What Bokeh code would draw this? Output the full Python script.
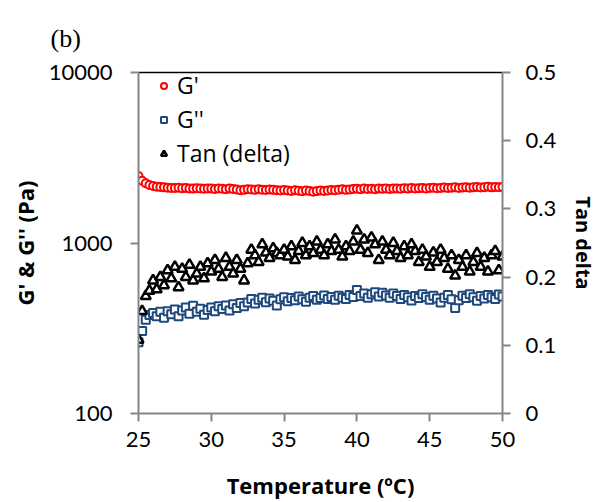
from bokeh.plotting import figure
from bokeh.models import (Range1d, LinearAxis, LinearScale, FixedTicker, PrintfTickFormatter,
                          Legend, LegendItem, ColumnDataSource)
from bokeh.embed import file_html
from bokeh.resources import INLINE

temperature = [
    25.00, 25.25, 25.50, 25.75, 26.00, 26.25, 26.50, 26.75, 27.00, 27.25,
    27.50, 27.75, 28.00, 28.25, 28.50, 28.75, 29.00, 29.25, 29.50, 29.75,
    30.00, 30.25, 30.50, 30.75, 31.00, 31.25, 31.50, 31.75, 32.00, 32.25,
    32.50, 32.75, 33.00, 33.25, 33.50, 33.75, 34.00, 34.25, 34.50, 34.75,
    35.00, 35.25, 35.50, 35.75, 36.00, 36.25, 36.50, 36.75, 37.00, 37.25,
    37.50, 37.75, 38.00, 38.25, 38.50, 38.75, 39.00, 39.25, 39.50, 39.75,
    40.00, 40.25, 40.50, 40.75, 41.00, 41.25, 41.50, 41.75, 42.00, 42.25,
    42.50, 42.75, 43.00, 43.25, 43.50, 43.75, 44.00, 44.25, 44.50, 44.75,
    45.00, 45.25, 45.50, 45.75, 46.00, 46.25, 46.50, 46.75, 47.00, 47.25,
    47.50, 47.75, 48.00, 48.25, 48.50, 48.75, 49.00, 49.25, 49.50, 49.75,
    50.00,
]

g_storage = [
    2470, 2320, 2240, 2190, 2160, 2140, 2130, 2120, 2110, 2105,
    2100, 2110, 2095, 2100, 2090, 2085, 2095, 2090, 2080, 2090,
    2085, 2075, 2090, 2080, 2070, 2085, 2075, 2060, 2040, 2050,
    2065, 2060, 2050, 2065, 2055, 2045, 2060, 2050, 2040, 2030,
    2045, 2035, 2020, 2040, 2025, 2010, 2030, 2020, 2000, 2015,
    2030, 2020, 2035, 2045, 2040, 2055, 2065, 2050, 2060, 2075,
    2080, 2070, 2085, 2075, 2080, 2070, 2085, 2080, 2090, 2075,
    2085, 2090, 2080, 2095, 2085, 2100, 2090, 2095, 2105, 2090,
    2100, 2110, 2095, 2105, 2115, 2100, 2110, 2120, 2105, 2115,
    2125, 2110, 2120, 2130, 2115, 2125, 2135, 2120, 2130, 2125,
    2130,
]

g_loss = [
    262, 305, 355, 378, 388, 372, 395, 365, 398, 382,
    408, 372, 402, 418, 385, 428, 395, 412, 380, 405,
    418, 398, 425, 410, 430, 402, 438, 415, 445, 425,
    448, 470, 442, 465, 478, 450, 472, 458, 430, 468,
    480, 455, 475, 462, 485, 468, 452, 478, 488, 465,
    475, 492, 470, 482, 465, 490, 478, 470, 495, 482,
    530, 488, 505, 478, 500, 515, 485, 510, 492, 478,
    505, 488, 470, 495, 480, 460, 488, 475, 500, 482,
    465, 490, 472, 448, 478, 495, 468, 415, 462, 490,
    475, 500, 480, 458, 488, 472, 495, 480, 470, 498,
    485,
]

tan_delta = [
    0.108, 0.150, 0.172, 0.180, 0.195, 0.182, 0.200, 0.188, 0.210, 0.198,
    0.215, 0.185, 0.212, 0.200, 0.218, 0.195, 0.205, 0.215, 0.198, 0.220,
    0.208, 0.225, 0.212, 0.200, 0.228, 0.215, 0.205, 0.225, 0.212, 0.195,
    0.220, 0.240, 0.232, 0.222, 0.248, 0.236, 0.228, 0.242, 0.235, 0.232,
    0.240, 0.230, 0.245, 0.225, 0.238, 0.250, 0.232, 0.245, 0.235, 0.252,
    0.240, 0.232, 0.248, 0.238, 0.255, 0.240, 0.230, 0.245, 0.238, 0.252,
    0.268, 0.240, 0.255, 0.235, 0.258, 0.248, 0.225, 0.252, 0.240, 0.232,
    0.250, 0.238, 0.228, 0.245, 0.232, 0.248, 0.238, 0.222, 0.240, 0.230,
    0.215, 0.236, 0.222, 0.240, 0.228, 0.212, 0.232, 0.202, 0.225, 0.215,
    0.232, 0.208, 0.222, 0.235, 0.215, 0.228, 0.208, 0.232, 0.238, 0.210,
    0.230,
]

x_ticks = [25, 30, 35, 40, 45, 50]
left_ticks = [100, 1000, 10000]
right_ticks = [0, 0.1, 0.2, 0.3, 0.4, 0.5]

FONT = "Lato"
LABEL_FONT = "Open Sans"
AXIS_GRAY = "#868686"

src = ColumnDataSource(dict(t=temperature, g1=g_storage, g2=g_loss, td=tan_delta))

p = figure(width=600, height=502, x_range=Range1d(25, 50),
           y_range=Range1d(100, 10000), y_axis_type="log",
           output_backend="svg", toolbar_location=None,
           min_border_left=138, min_border_right=95,
           min_border_top=72, min_border_bottom=88)
p.extra_y_ranges = {"td": Range1d(0, 0.5)}
p.extra_y_scales = {"td": LinearScale()}
p.outline_line_color = None
p.xgrid.visible = False
p.ygrid.visible = False
p.background_fill_color = "white"
p.border_fill_color = "white"

p.title.text = "(b)"
p.title.align = "left"
p.title.vertical_align = "top"
p.title.offset = -88
p.title.text_font = "Liberation Serif"
p.title.text_font_size = "26px"
p.title.text_font_style = "normal"
p.title.text_color = "black"
p.title.standoff = 36


def style_axis(ax):
    ax.axis_line_color = AXIS_GRAY
    ax.axis_line_width = 2
    ax.major_tick_line_color = AXIS_GRAY
    ax.major_tick_line_width = 2
    ax.major_tick_in = 0
    ax.major_tick_out = 8
    ax.minor_tick_line_color = None
    ax.major_label_text_font = FONT
    ax.major_label_text_font_size = "22px"
    ax.major_label_text_color = "black"
    ax.axis_label_text_font = LABEL_FONT
    ax.axis_label_text_font_style = "bold"
    ax.axis_label_text_font_size = "21px"
    ax.axis_label_text_color = "black"


xa = p.xaxis[0]
style_axis(xa)
xa.ticker = FixedTicker(ticks=x_ticks)
xa.major_label_standoff = 10
xa.axis_label = "Temperature (ºC)"
xa.axis_label_text_font_size = "22px"
xa.axis_label_standoff = 20

ya = p.yaxis[0]
style_axis(ya)
ya.ticker = FixedTicker(ticks=left_ticks)
ya.formatter = PrintfTickFormatter(format="%d")
ya.major_label_standoff = 18
ya.axis_label = "G' & G'' (Pa)"
ya.axis_label_text_font_size = "22px"
ya.axis_label_standoff = 6

ra = LinearAxis(y_range_name="td", ticker=FixedTicker(ticks=right_ticks),
                major_label_overrides={0: "0", 0.1: "0.1", 0.2: "0.2", 0.3: "0.3",
                                       0.4: "0.4", 0.5: "0.5"})
style_axis(ra)
ra.major_label_standoff = 15
ra.axis_label = "Tan delta"
ra.axis_label_text_font_size = "20px"
ra.axis_label_standoff = 11
p.add_layout(ra, "right")

top = LinearAxis(ticker=FixedTicker(ticks=[]), axis_line_color="black",
                 axis_line_width=1.5, major_tick_line_color=None,
                 minor_tick_line_color=None, major_label_text_font_size="0px")
p.add_layout(top, "above")

r1 = p.scatter("t", "g1", source=src, marker="circle", size=8,
               line_color="#FF0000", line_width=2, fill_color="white")
r2 = p.scatter("t", "g2", source=src, marker="square", size=8,
               line_color="#1F497D", line_width=2, fill_color="white")
r3 = p.scatter("t", "td", source=src, marker="triangle", size=10,
               line_color="black", line_width=2.5, fill_color="white",
               y_range_name="td")

legend = Legend(items=[LegendItem(label="G'", renderers=[r1]),
                       LegendItem(label="G''", renderers=[r2]),
                       LegendItem(label="Tan (delta)", renderers=[r3])],
                location=(18, 244), margin=0, padding=0, spacing=2,
                glyph_width=15, glyph_height=15, label_height=26,
                label_standoff=6, border_line_color=None,
                background_fill_alpha=0,
                label_text_font=LABEL_FONT, label_text_font_size="23px",
                label_text_color="black")
p.add_layout(legend, "center")

open("out.html", "w").write(file_html(p, INLINE))
